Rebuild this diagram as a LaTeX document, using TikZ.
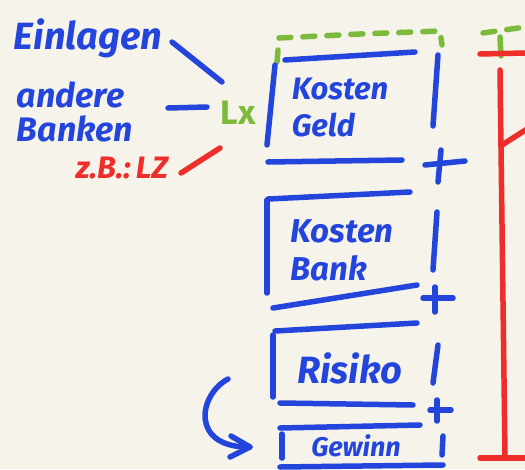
\documentclass[tikz,border=0pt]{standalone}
\usepackage{fontspec}
\setmainfont{Fira Sans}
\usetikzlibrary{arrows.meta}
\definecolor{paper}{HTML}{F6F3EA}
\definecolor{penblue}{HTML}{2445DC}
\definecolor{penred}{HTML}{EE2E2A}
\definecolor{pengreen}{HTML}{7CBA3B}
\tikzset{
  pen/.style={line width=5.5pt, line cap=round, line join=round},
  bluepen/.style={pen, draw=penblue},
  redpen/.style={pen, draw=penred},
  greenpen/.style={pen, draw=pengreen},
  greendash/.style={pen, draw=pengreen, dash pattern=on 12pt off 12pt},
  hand/.style={inner sep=0pt, align=left},
}
\begin{document}
\begin{tikzpicture}[x=1pt,y=-1pt]
\fill[paper] (0,0) rectangle (525,469);
\useasboundingbox (0,0) rectangle (525,469);

% left labels
\node[hand, text=penblue, font=\fontsize{38}{38}\selectfont\bfseries\itshape] (ein) at (88,38) {Einlagen};
\node[hand, text=penblue, font=\fontsize{34}{34}\selectfont\bfseries\itshape] (andere) at (75,112) {andere\\Banken};
\node[hand, text=penred, font=\fontsize{31}{31}\selectfont\bfseries\itshape] (zb) at (122,168) {z.B.:\,LZ};
\node[hand, text=pengreen, font=\fontsize{34}{34}\selectfont\bfseries] (lx) at (238,113) {Lx};

\coordinate (e1) at (172,42); \coordinate (e2) at (222,82);
\coordinate (a1) at (168,108); \coordinate (a2) at (207,107);
\coordinate (z1) at (181,173); \coordinate (z2) at (220,148);
\draw[bluepen] (e1) -- (e2);
\draw[bluepen] (a1) -- (a2);
\draw[redpen] (z1) -- (z2);

% box texts
\node[hand, text=penblue, font=\fontsize{31}{37}\selectfont\bfseries\itshape] (kg) at (340,108) {Kosten\\Geld};
\node[hand, text=penblue, font=\fontsize{33}{38}\selectfont\bfseries\itshape] (kb) at (342,250) {Kosten\\Bank};
\node[hand, text=penblue, font=\fontsize{38}{38}\selectfont\bfseries\itshape] (ri) at (350,368) {Risiko};
\node[hand, text=penblue, font=\fontsize{27}{27}\selectfont\bfseries\itshape] (ge) at (356,446) {Gewinn};

% green dashed frame
\draw[greendash] (277,62) -- (279,38) -- (360,34) -- (440,31) -- (442,45);
\draw[greendash] (483,33) -- (525,27);
\draw[greenpen] (500,37) -- (501,56);

% box 1
\draw[bluepen] (285,60) -- (415,52);
\draw[bluepen] (275,65) -- (267,145);
\draw[bluepen] (438,55) -- (433,126);
\draw[bluepen] (268,162) -- (402,160);
\draw[bluepen] (425,165) -- (465,161);
\draw[bluepen] (441,150) -- (438,182);

% box 2
\draw[bluepen] (268,199) -- (410,192);
\draw[bluepen] (267,200) -- (267,293);
\draw[bluepen] (437,212) -- (433,270);
\draw[bluepen] (273,308) -- (417,285);
\draw[bluepen] (423,298) -- (453,298);
\draw[bluepen] (435,287) -- (435,312);

% box 3
\draw[bluepen] (275,331) -- (417,323);
\draw[bluepen] (273,335) -- (273,397);
\draw[bluepen] (438,345) -- (433,383);
\draw[bluepen] (280,403) -- (413,405);
\draw[bluepen] (430,410) -- (451,410);
\draw[bluepen] (437,400) -- (437,421);

% box 4
\draw[bluepen] (280,428) -- (420,425);
\draw[bluepen] (282,434) -- (282,458);
\draw[bluepen] (443,436) -- (442,455);
\draw[bluepen] (280,467) -- (443,465);

% curved arrow
\coordinate (c1) at (228,379);
\coordinate (c2) at (250,447);
\draw[bluepen] (c1) .. controls (198,395) and (190,448) .. (c2);
\draw[bluepen] (231,436) -- (250,447) -- (230,457);

% red bracket
\coordinate (r1) at (500,70); \coordinate (r2) at (505,456);
\draw[redpen] (480,54) -- (525,53);
\draw[redpen] (r1) -- (r2);
\draw[redpen] (480,458) -- (525,458);
\draw[redpen] (502,145) -- (527,129);
\end{tikzpicture}
\end{document}
